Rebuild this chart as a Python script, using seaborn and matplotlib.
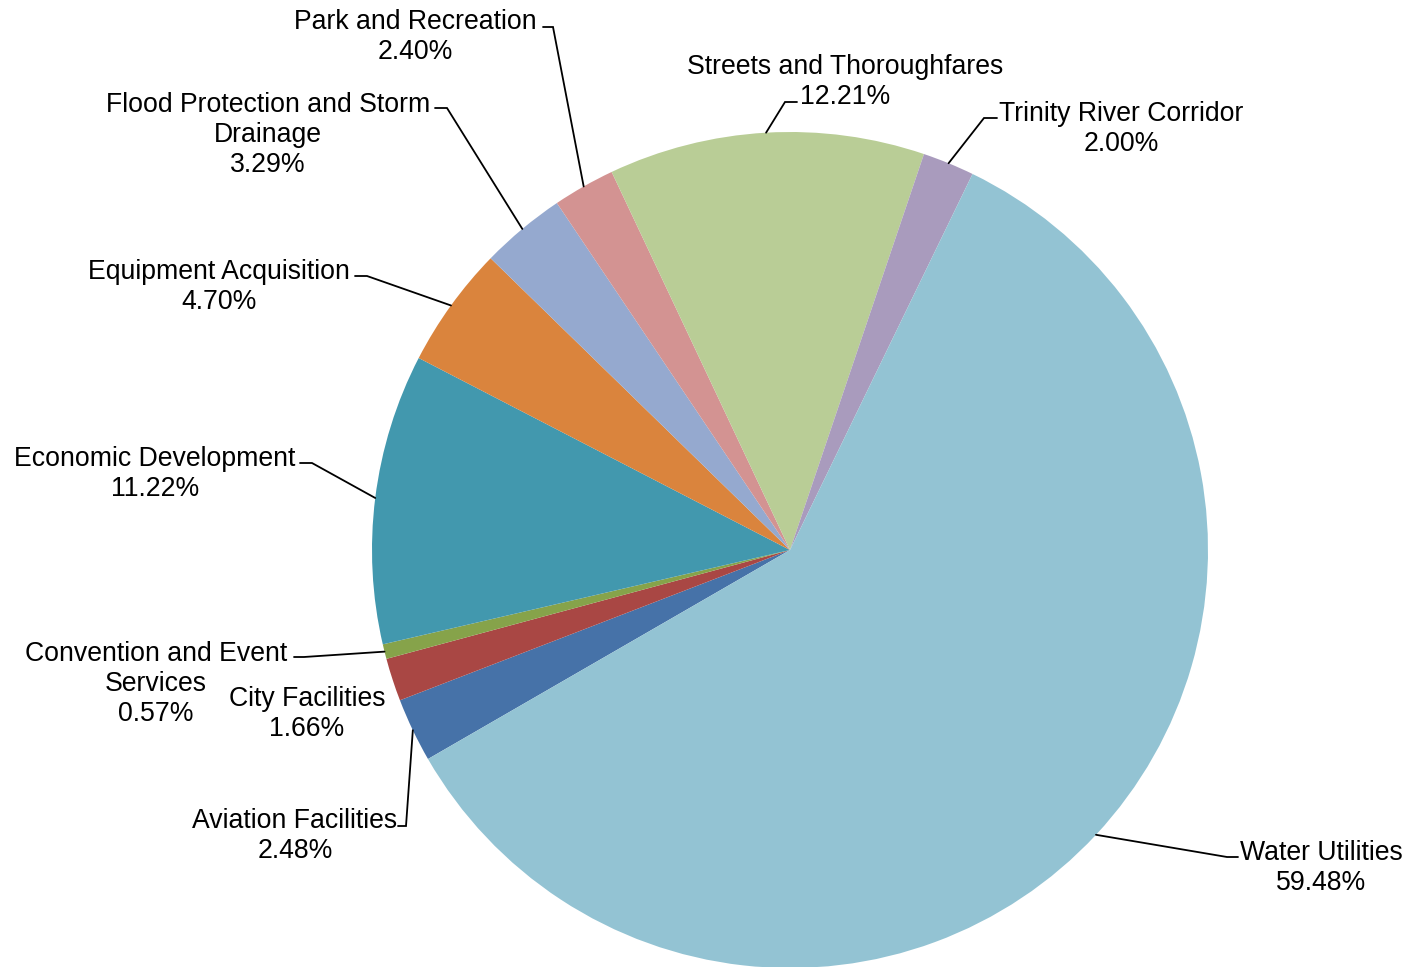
import numpy as np
import matplotlib
matplotlib.use("Agg")
import matplotlib.pyplot as plt
import seaborn as sns

sns.set_theme(style="white")
plt.rcParams['font.family'] = ['Liberation Sans', 'DejaVu Sans']

categories = ["Aviation Facilities", "City Facilities", "Convention and Event\nServices",
              "Economic Development", "Equipment Acquisition",
              "Flood Protection and Storm\nDrainage", "Park and Recreation",
              "Streets and Thoroughfares", "Trinity River Corridor", "Water Utilities"]
values = [2.48, 1.66, 0.57, 11.22, 4.70, 3.29, 2.40, 12.21, 2.00, 59.48]
pct_labels = ["2.48%", "1.66%", "0.57%", "11.22%", "4.70%", "3.29%", "2.40%",
              "12.21%", "2.00%", "59.48%"]
colors = ["#4672A8", "#A94744", "#86A34A", "#4298AE", "#DA843D",
          "#95A9CF", "#D39392", "#B9CD96", "#A99BBD", "#93C3D3"]

W, H = 1412, 967
CX, CY, R = 790, 550, 418

fig = plt.figure(figsize=(W / 100, H / 100), dpi=100)
ax = fig.add_axes([0, 0, 1, 1])
wedges, _ = ax.pie(values, colors=colors, startangle=-150, counterclock=False,
                   radius=1.0, wedgeprops=dict(linewidth=0))
ax.set_xlim(-CX / R, (W - CX) / R)
ax.set_ylim(-(H - CY) / R, CY / R)
ax.set_aspect('equal')
ax.axis('off')


def px(x, y):
    return (x - CX) / R, (CY - y) / R

# layout: text center (pixels), elbow point, stub end (None = no leader)
layout = [
    ((295, 836), (406, 826), (398, 826)),
    ((307, 714), None, None),
    ((156, 684), (304, 657), (294, 657)),
    ((155, 474), (312, 463), (300, 463)),
    ((219, 287), (367, 276), (355, 276)),
    ((268, 135), (447, 108), (435, 108)),
    ((415, 37), (553, 27), (543, 27)),
    ((845, 82), (785, 102), (797, 102)),
    ((1121, 129), (984, 118), (997, 118)),
    ((1321, 868), (1227, 857), (1238, 857)),
]

for w, cat, pct, (tc, elbow, stub) in zip(wedges, categories, pct_labels, layout):
    mid = np.deg2rad((w.theta1 + w.theta2) / 2)
    ex, ey = np.cos(mid), np.sin(mid)
    tx, ty = px(*tc)
    ax.text(tx, ty, f"{cat}\n{pct}", ha="center", va="center", fontsize=19.2,
            color="black", linespacing=1.22)
    if elbow is not None:
        bx, by = px(*elbow)
        sx, sy = px(*stub)
        ax.plot([ex, bx, sx], [ey, by, sy], color="black", lw=1.3,
                solid_joinstyle="miter")

fig.savefig("out.png", dpi=100, facecolor="white")
